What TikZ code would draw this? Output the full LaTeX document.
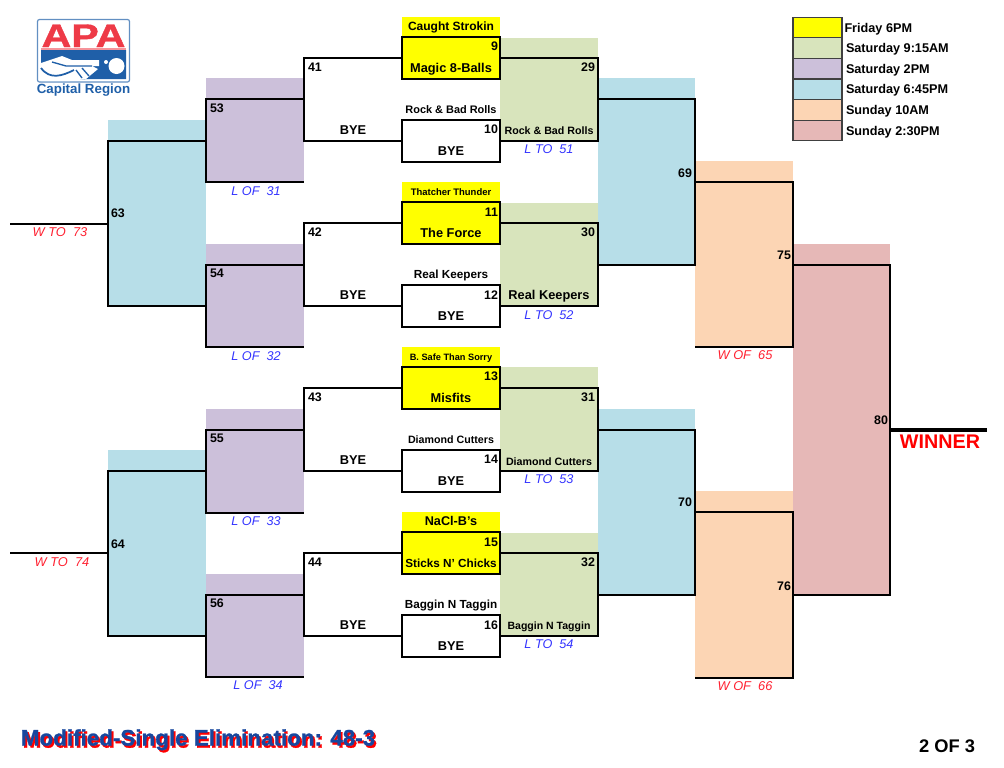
\documentclass[tikz,border=0pt]{standalone}
\usepackage{fontspec}
\setmainfont{Liberation Sans}
\newfontfamily\heavyfont[UprightFont={* Bold},UprightFeatures={FakeBold=1.2}]{Liberation Sans}
\definecolor{fri}{HTML}{FFFF00}
\definecolor{sat1}{HTML}{D8E4BC}
\definecolor{sat2}{HTML}{CCC0DA}
\definecolor{sat3}{HTML}{B7DEE8}
\definecolor{sun1}{HTML}{FCD5B4}
\definecolor{sun2}{HTML}{E6B8B7}
\definecolor{lossblue}{HTML}{3333FF}
\definecolor{winred}{HTML}{FF2030}
\definecolor{purered}{HTML}{FF0000}
\definecolor{apared}{HTML}{EE3A47}
\definecolor{apablue}{HTML}{1F5FA8}
\definecolor{titleblue}{HTML}{17479E}
\newcommand{\fsz}[1]{\fontsize{#1}{#1}\selectfont}
\newcommand{\shadowed}[1]{\rlap{\hspace{1.4pt}\raisebox{-1.6pt}{\color{purered}#1}}#1}
\tikzset{
  every node/.style={inner sep=0pt,outer sep=0pt},
  wire/.style={draw,line width=1.6pt,line join=miter},
  wirefat/.style={draw,line width=2.1pt,line join=miter},
  team/.style={draw,line width=2pt,fill=white,minimum width=73.5pt,minimum height=31.5pt},
  topbar/.style={anchor=mid,yshift=-.9pt,font=\bfseries},
  teamname/.style={anchor=mid,yshift=-.9pt,font=\bfseries\fsz{9.6}},
  numl/.style={anchor=mid west,yshift=-.9pt,font=\bfseries\fsz{9.3}},
  numr/.style={anchor=mid east,yshift=-.9pt,font=\bfseries\fsz{9.3}},
  loss/.style={anchor=mid,yshift=-.9pt,text=lossblue,font=\itshape\fsz{9.5}},
  win/.style={anchor=mid,yshift=-.9pt,text=winred,font=\itshape\fsz{9.6}},
  legendbox/.style={draw=black!75,line width=.8pt,minimum width=36.75pt,minimum height=15.4pt},
  legendtext/.style={anchor=mid west,yshift=-.9pt,font=\bfseries\fsz{9.5}}
}
\begin{document}
\begin{tikzpicture}[x=.75pt,y=-.75pt]
  \useasboundingbox (0,0) rectangle (1004,768);

  % time slots
  \path[fill=sat1] (500,38) rectangle (598,141);
  \path[fill=sat1] (500,203) rectangle (598,306);
  \path[fill=sat1] (500,367) rectangle (598,471);
  \path[fill=sat1] (500,533) rectangle (598,636);
  \path[fill=sat2] (206,78) rectangle (304,182);
  \path[fill=sat2] (206,244) rectangle (304,347);
  \path[fill=sat2] (206,409) rectangle (304,513);
  \path[fill=sat2] (206,574) rectangle (304,677);
  \path[fill=sat3] (108,120) rectangle (206,306);
  \path[fill=sat3] (108,450) rectangle (206,636);
  \path[fill=sat3] (598,78) rectangle (695,265);
  \path[fill=sat3] (598,409) rectangle (695,595);
  \path[fill=sun1] (695,161) rectangle (793,347);
  \path[fill=sun1] (695,491) rectangle (793,678);
  \path[fill=sun2] (793,244) rectangle (890,595);
  \path[fill=fri] (402,17) rectangle (500,37);
  \path[fill=fri] (402,182) rectangle (500,202);
  \path[fill=fri] (402,347) rectangle (500,367);
  \path[fill=fri] (402,512) rectangle (500,532);

  % first round
  \node[topbar] (t9) at (451,26) {\fsz{9}Caught Strokin};
  \node[topbar] (t10) at (451,109) {\fsz{8.2}Rock \& Bad Rolls};
  \node[topbar] (t11) at (451,191) {\fsz{7.1}Thatcher Thunder};
  \node[topbar] (t12) at (451,274) {\fsz{8.8}Real Keepers};
  \node[topbar] (t13) at (451,356) {\fsz{6.9}B. Safe Than Sorry};
  \node[topbar] (t14) at (451,439) {\fsz{8}Diamond Cutters};
  \node[topbar] (t15) at (451,521) {\fsz{9.5}NaCl-B's};
  \node[topbar] (t16) at (451,604) {\fsz{8.8}Baggin N Taggin};

  \node[team,fill=fri] (m9) at (451,58) {};
  \node[team] (m10) at (451,141) {};
  \node[team,fill=fri] (m11) at (451,223) {};
  \node[team] (m12) at (451,306) {};
  \node[team,fill=fri] (m13) at (451,388) {};
  \node[team] (m14) at (451,471) {};
  \node[team,fill=fri] (m15) at (451,553) {};
  \node[team] (m16) at (451,636) {};

  % bracket corners
  \coordinate (c29) at (598,58);
  \coordinate (c30) at (598,223);
  \coordinate (c31) at (598,388);
  \coordinate (c32) at (598,553);
  \coordinate (o29) at (598,99);
  \coordinate (o30) at (598,265);
  \coordinate (o31) at (598,430);
  \coordinate (o32) at (598,595);
  \coordinate (c69) at (695,99);
  \coordinate (c70) at (695,430);
  \coordinate (o69) at (695,182);
  \coordinate (o70) at (695,512);
  \coordinate (c75) at (793,182);
  \coordinate (c76) at (793,512);
  \coordinate (e75) at (695,347);
  \coordinate (e76) at (695,678);
  \coordinate (o75) at (793,265);
  \coordinate (o76) at (793,595);
  \coordinate (c80) at (890,265);
  \coordinate (o80) at (890,430);
  \coordinate (w80) at (987,430);

  \coordinate (c41) at (304,58);
  \coordinate (c42) at (304,223);
  \coordinate (c43) at (304,388);
  \coordinate (c44) at (304,553);
  \coordinate (o41) at (304,99);
  \coordinate (o42) at (304,265);
  \coordinate (o43) at (304,430);
  \coordinate (o44) at (304,595);
  \coordinate (c53) at (206,99);
  \coordinate (c54) at (206,265);
  \coordinate (c55) at (206,430);
  \coordinate (c56) at (206,595);
  \coordinate (e53) at (304,182);
  \coordinate (e54) at (304,347);
  \coordinate (e55) at (304,513);
  \coordinate (e56) at (304,677);
  \coordinate (o53) at (206,141);
  \coordinate (o54) at (206,306);
  \coordinate (o55) at (206,471);
  \coordinate (o56) at (206,636);
  \coordinate (c63) at (108,141);
  \coordinate (c64) at (108,471);
  \coordinate (o63) at (108,224);
  \coordinate (o64) at (108,553);
  \coordinate (w63) at (10,224);
  \coordinate (w64) at (10,553);

  % right side
  \path[wirefat] (m9.east) -- (c29) -- (c29 |- m10) -- (m10.east);
  \path[wirefat] (m11.east) -- (c30) -- (c30 |- m12) -- (m12.east);
  \path[wirefat] (m13.east) -- (c31) -- (c31 |- m14) -- (m14.east);
  \path[wirefat] (m15.east) -- (c32) -- (c32 |- m16) -- (m16.east);
  \path[wirefat] (o29) -- (c69) -- (c69 |- o30) -- (o30);
  \path[wirefat] (o31) -- (c70) -- (c70 |- o32) -- (o32);
  \path[wirefat] (o69) -- (c75) -- (c75 |- e75) -- (e75);
  \path[wirefat] (o70) -- (c76) -- (c76 |- e76) -- (e76);
  \path[wirefat] (o75) -- (c80) -- (c80 |- o76) -- (o76);
  \path[draw,line width=3pt] (o80) -- (w80);

  % left side
  \path[wire] (m9.west) -- (c41) -- (c41 |- m10) -- (m10.west);
  \path[wire] (m11.west) -- (c42) -- (c42 |- m12) -- (m12.west);
  \path[wire] (m13.west) -- (c43) -- (c43 |- m14) -- (m14.west);
  \path[wire] (m15.west) -- (c44) -- (c44 |- m16) -- (m16.west);
  \path[wirefat] (o41) -- (c53) -- (c53 |- e53) -- (e53);
  \path[wire] (o42) -- (c54) -- (c54 |- e54) -- (e54);
  \path[wire] (o43) -- (c55) -- (c55 |- e55) -- (e55);
  \path[wirefat] (o44) -- (c56) -- (c56 |- e56) -- (e56);
  \path[wirefat] (o53) -- (c63) -- (c63 |- o54) -- (o54);
  \path[wirefat] (o55) -- (c64) -- (c64 |- o56) -- (o56);
  \path[wirefat] (w63) -- (o63);
  \path[wire] (w64) -- (o64);

  % numbers
  \node[numr] (n9) at (498,46) {9};
  \node[numr] (n10) at (498,129) {10};
  \node[numr] (n11) at (498,212) {11};
  \node[numr] (n12) at (498,295) {12};
  \node[numr] (n13) at (498,376) {13};
  \node[numr] (n14) at (498,459) {14};
  \node[numr] (n15) at (498,542) {15};
  \node[numr] (n16) at (498,625) {16};
  \node[numr] (n29) at (595,67) {29};
  \node[numr] (n30) at (595,232) {30};
  \node[numr] (n31) at (595,397) {31};
  \node[numr] (n32) at (595,562) {32};
  \node[numl] (n41) at (308,67) {41};
  \node[numl] (n42) at (308,232) {42};
  \node[numl] (n43) at (308,397) {43};
  \node[numl] (n44) at (308,562) {44};
  \node[numl] (n53) at (210,108) {53};
  \node[numl] (n54) at (210,273) {54};
  \node[numl] (n55) at (210,438) {55};
  \node[numl] (n56) at (210,603) {56};
  \node[numl] (n63) at (111,213) {63};
  \node[numl] (n64) at (111,544) {64};
  \node[numr] (n69) at (692,173) {69};
  \node[numr] (n70) at (692,502) {70};
  \node[numr] (n75) at (791,255) {75};
  \node[numr] (n76) at (791,586) {76};
  \node[numr] (n80) at (888,420) {80};

  % team names
  \node[teamname] (a9) at (451,68) {Magic 8-Balls};
  \node[teamname] (a10) at (451,151) {BYE};
  \node[teamname] (a11) at (451,233) {The Force};
  \node[teamname] (a12) at (451,316) {BYE};
  \node[teamname] (a13) at (451,398) {Misfits};
  \node[teamname] (a14) at (451,481) {BYE};
  \node[teamname,font=\bfseries\fsz{8.8}] (a15) at (451,563) {Sticks N' Chicks};
  \node[teamname] (a16) at (451,646) {BYE};
  \node[teamname,font=\bfseries\fsz{8}] (a29) at (549,130) {Rock \& Bad Rolls};
  \node[teamname] (a30) at (549,295) {Real Keepers};
  \node[teamname,font=\bfseries\fsz{8}] (a31) at (549,461) {Diamond Cutters};
  \node[teamname,font=\bfseries\fsz{7.9}] (a32) at (549,625) {Baggin N Taggin};
  \node[teamname] (b41) at (353,130) {BYE};
  \node[teamname] (b42) at (353,295) {BYE};
  \node[teamname] (b43) at (353,460) {BYE};
  \node[teamname] (b44) at (353,625) {BYE};

  % notes
  \node[loss] (l51) at (549,149) {L TO\ \ 51};
  \node[loss] (l52) at (549,315) {L TO\ \ 52};
  \node[loss] (l53) at (549,479) {L TO\ \ 53};
  \node[loss] (l54) at (549,644) {L TO\ \ 54};
  \node[loss] (l31) at (256,191) {L OF\ \ 31};
  \node[loss] (l32) at (256,356) {L OF\ \ 32};
  \node[loss] (l33) at (256,521) {L OF\ \ 33};
  \node[loss] (l34) at (258,685) {L OF\ \ 34};
  \node[win] (w73) at (60,232) {W TO\ \ 73};
  \node[win] (w74) at (62,562) {W TO\ \ 74};
  \node[win] (w65) at (745,355) {W OF\ \ 65};
  \node[win] (w66) at (745,686) {W OF\ \ 66};
  \node[anchor=mid,text=purered,font=\bfseries\fsz{14.8}] (winner) at (940,445) {WINNER};

  % legend
  \node[legendbox,fill=fri] (k1) at (817.5,27.5) {};
  \node[legendbox,fill=sat1] (k2) at (817.5,48) {};
  \node[legendbox,fill=sat2] (k3) at (817.5,68.5) {};
  \node[legendbox,fill=sat3] (k4) at (817.5,89.5) {};
  \node[legendbox,fill=sun1] (k5) at (817.5,110) {};
  \node[legendbox,fill=sun2] (k6) at (817.5,130.5) {};
  \node[legendtext] (x1) at (844.5,28) {Friday 6PM};
  \node[legendtext] (x2) at (846,48) {Saturday 9:15AM};
  \node[legendtext] (x3) at (846,69) {Saturday 2PM};
  \node[legendtext] (x4) at (846,89) {Saturday 6:45PM};
  \node[legendtext] (x5) at (846,110) {Sunday 10AM};
  \node[legendtext] (x6) at (846,131) {Sunday 2:30PM};

  % logo
  \path[draw=apablue!70,fill=white,line width=.9pt,rounded corners=1.5pt] (37.5,19.5) rectangle (129.5,82);
  \node[anchor=base,text=apared,font=\heavyfont\fsz{24.5}] (apa) at (83.5,47) {\scalebox{1.26}[1]{APA}};
  \path[fill=apared!55] (41,47.5) rectangle (126,50);
  \path[fill=apablue] (41,50) -- (126,50) -- (126,79) -- (90,79) -- (70,80) -- (41,79) -- cycle;
  \path[fill=white] (41,63) -- (62,56) -- (72,60) -- (99,60) -- (99,66) -- (92,66) -- (98,69) -- (86,79) -- (70,81) -- (41,81) -- cycle;
  \path[draw=apablue,line width=1.3pt] (41,68) .. controls (50,80) and (62,76) .. (74,70);
  \path[draw=apablue,line width=1pt] (52,62) -- (66,66) -- (92,66);
  \path[draw=apablue,line width=1pt] (76,70) -- (82,78);
  \path[draw=apablue,line width=1pt] (82,68) -- (89,76);
  \path[fill=white] (116.5,66) circle (8);
  \path[fill=white] (106,62) circle (2);
  \node[anchor=mid,text=apablue,font=\bfseries\fsz{10}] (region) at (83.5,90) {Capital Region};

  % footer
  \node[anchor=mid,text=titleblue,font=\heavyfont\fsz{16.8}] (title) at (198,742) {\shadowed{Modified-Single Elimination: 48-3}};
  \node[anchor=mid,font=\bfseries\fsz{13.7}] (page) at (947,749) {2 OF 3};
\end{tikzpicture}
\end{document}
